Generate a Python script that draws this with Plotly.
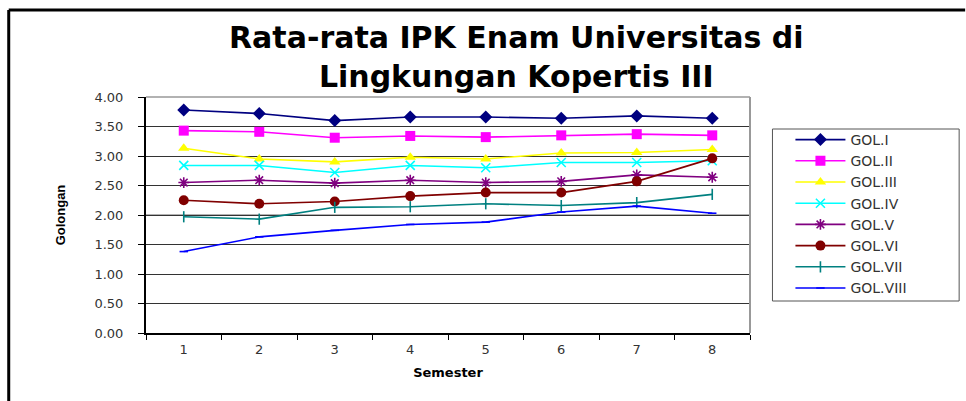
import plotly.graph_objects as go

semesters = [1, 2, 3, 4, 5, 6, 7, 8]
series_names = ["GOL.I", "GOL.II", "GOL.III", "GOL.IV", "GOL.V", "GOL.VI", "GOL.VII", "GOL.VIII"]
gol_i = [3.78, 3.72, 3.60, 3.66, 3.66, 3.64, 3.68, 3.64]
gol_ii = [3.43, 3.41, 3.31, 3.34, 3.32, 3.35, 3.37, 3.35]
gol_iii = [3.13, 2.95, 2.90, 2.98, 2.95, 3.05, 3.06, 3.11]
gol_iv = [2.84, 2.84, 2.72, 2.84, 2.80, 2.89, 2.89, 2.92]
gol_v = [2.55, 2.59, 2.54, 2.59, 2.55, 2.57, 2.68, 2.64]
gol_vi = [2.25, 2.19, 2.23, 2.32, 2.38, 2.38, 2.57, 2.96]
gol_vii = [1.97, 1.93, 2.13, 2.14, 2.19, 2.16, 2.21, 2.35]
gol_viii = [1.38, 1.63, 1.74, 1.84, 1.88, 2.05, 2.15, 2.03]
y_ticks = [0.0, 0.5, 1.0, 1.5, 2.0, 2.5, 3.0, 3.5, 4.0]

series = [gol_i, gol_ii, gol_iii, gol_iv, gol_v, gol_vi, gol_vii, gol_viii]
styles = [
    dict(color="#000080", symbol="diamond", size=10),
    dict(color="#FF00FF", symbol="square", size=10),
    dict(color="#FFFF00", symbol="triangle-up", size=10),
    dict(color="#00FFFF", symbol="x-thin-open", size=9),
    dict(color="#800080", symbol="asterisk-open", size=9),
    dict(color="#800000", symbol="circle", size=10),
    dict(color="#008080", symbol="line-ns-open", size=8),
    dict(color="#0000FF", symbol="line-ew-open", size=6),
]

fig = go.Figure()
for name, vals, st in zip(series_names, series, styles):
    open_sym = st["symbol"].endswith("open")
    fig.add_trace(go.Scatter(
        x=semesters, y=vals, name=name, mode="lines+markers",
        line=dict(color=st["color"], width=1.6),
        marker=dict(symbol=st["symbol"], size=st["size"], color=st["color"],
                    line=dict(color=st["color"], width=1.6 if open_sym else 0)),
    ))

L, R, T, B = 145.5, 750.5, 97, 333
W, H = 966, 401


def px_x(p):
    return (p - L) / (R - L)


def px_y(p):
    return (B - p) / (B - T)


fig.update_layout(
    width=W, height=H,
    margin=dict(l=L, r=W - R, t=T, b=H - B),
    paper_bgcolor="white", plot_bgcolor="white",
    showlegend=True,
    legend=dict(
        x=px_x(791), y=px_y(124), xanchor="left", yanchor="top",
        borderwidth=0, bgcolor="rgba(0,0,0,0)",
        font=dict(family="DejaVu Sans", size=14, color="#333333"),
        itemwidth=50, tracegroupgap=0,
    ),
    xaxis=dict(
        range=[0.5, 8.5], tickmode="array", tickvals=semesters,
        ticktext=[str(s) for s in semesters], ticks="",
        ticklabelstandoff=4,
        showgrid=False, zeroline=False,
        showline=True, linecolor="black", linewidth=1.5,
        tickfont=dict(family="DejaVu Sans", size=13, color="#333333"),
        minor=dict(tick0=0.5, dtick=1, ticks="outside", ticklen=5,
                   tickcolor="black", tickwidth=1, showgrid=False),
        title=dict(text="Semester", standoff=12,
                   font=dict(family="DejaVu Sans", size=13, color="black", weight="bold")),
    ),
    yaxis=dict(
        range=[0, 4], tickmode="array", tickvals=y_ticks,
        ticktext=[f"{v:.2f}" for v in y_ticks],
        ticks="outside", ticklen=6, tickcolor="black", tickwidth=1,
        ticklabelstandoff=12,
        showgrid=True, gridcolor="#333333", gridwidth=1, zeroline=False,
        showline=True, linecolor="black", linewidth=2,
        tickfont=dict(family="DejaVu Sans", size=13, color="#333333"),
        title=dict(text="Golongan", standoff=26,
                   font=dict(family="Liberation Sans Narrow, Liberation Sans", size=13,
                             color="black", weight="bold")),
    ),
    shapes=[
        dict(type="line", xref="paper", yref="y", x0=0, x1=1, y0=2, y1=2,
             line=dict(color="#999999", width=1.5), layer="between"),
        dict(type="line", xref="paper", yref="paper", x0=0, x1=1, y0=1, y1=1,
             line=dict(color="#999999", width=1.5)),
        dict(type="line", xref="paper", yref="paper", x0=1, x1=1, y0=0, y1=1,
             line=dict(color="#999999", width=2)),
        dict(type="rect", xref="paper", yref="paper", x0=px_x(773), x1=px_x(960),
             y0=px_y(301), y1=px_y(129), line=dict(color="#555555", width=1)),
        dict(type="line", xref="paper", yref="paper", x0=px_x(8), x1=px_x(8),
             y0=px_y(10), y1=px_y(401), line=dict(color="black", width=3)),
        dict(type="line", xref="paper", yref="paper", x0=px_x(8), x1=px_x(966),
             y0=px_y(10), y1=px_y(10), line=dict(color="black", width=3)),
    ],
    annotations=[
        dict(text="Rata-rata IPK Enam Universitas di<br>Lingkungan Kopertis III",
             xref="paper", yref="paper",
             x=px_x(517), y=px_y(57), xanchor="center", yanchor="middle", showarrow=False,
             font=dict(family="DejaVu Sans", size=30, color="black", weight="bold")),
    ],
)

fig.write_html("out.html", config={"displayModeBar": False},
               post_script="document.body.style.margin='0';")
